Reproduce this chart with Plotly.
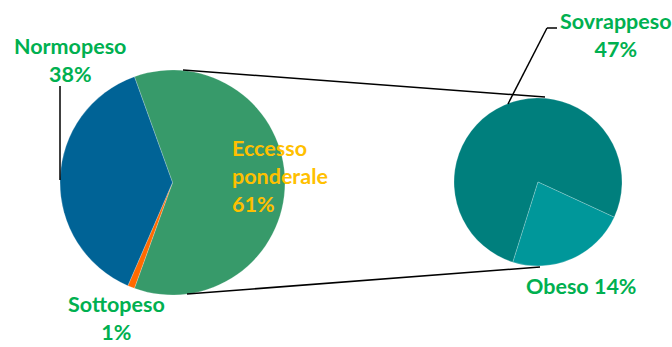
import plotly.graph_objects as go

# Main pie: body-weight categories (percent)
main_labels = ["Eccesso ponderale", "Sottopeso", "Normopeso"]
main_values = [61, 1, 38]
main_colors = ["#379A6A", "#FF6A00", "#006396"]

# Secondary pie: breakdown of "Eccesso ponderale"
sub_labels = ["Sovrappeso", "Obeso"]
sub_values = [47, 14]
sub_colors = ["#007F7D", "#00979A"]

W, H = 672, 347


def px(x):
    return x / W


def py(y):
    return 1 - y / H


GREEN = "#00B050"
YELLOW = "#FFC000"
FONT = "Lato"
SIZE = 21.5

# rotate the main pie so that the "Eccesso ponderale" slice is centred at 3 o'clock
share_excess = main_values[0] / sum(main_values)
main_rotation = 90 - 180 * share_excess

fig = go.Figure()
fig.add_trace(go.Pie(
    labels=main_labels, values=main_values, sort=False,
    direction="clockwise", rotation=main_rotation,
    marker=dict(colors=main_colors, line=dict(color="rgba(255,255,255,0.35)", width=0.6)),
    textinfo="none", hoverinfo="label+percent", showlegend=False,
    domain=dict(x=[px(60), px(285)], y=[py(295), py(70)]),
))
fig.add_trace(go.Pie(
    labels=sub_labels, values=sub_values, sort=False,
    direction="clockwise", rotation=-162.6,
    marker=dict(colors=sub_colors, line=dict(color="rgba(255,255,255,0.35)", width=0.6)),
    textinfo="none", hoverinfo="label+value", showlegend=False,
    domain=dict(x=[px(454), px(622)], y=[py(266), py(98)]),
))

shapes = []


def seg(x0, y0, x1, y1, w=1.5):
    shapes.append(dict(type="line", xref="paper", yref="paper",
                       x0=px(x0), y0=py(y0), x1=px(x1), y1=py(y1),
                       line=dict(color="black", width=w)))


# connector lines between the two pies
seg(183, 70, 545, 97)
seg(187, 294, 540, 267)
# leader lines
seg(60, 86, 60, 180)
seg(508, 104, 547, 28)
seg(547, 28, 557, 28)

annotations = []


def label(text, x, y, color, anchor="center", yanchor="middle"):
    annotations.append(dict(text=text, x=px(x), y=py(y), xref="paper", yref="paper",
                            showarrow=False, xanchor=anchor, yanchor=yanchor,
                            align=anchor if anchor != "center" else "center",
                            font=dict(family=FONT, size=SIZE, color=color, weight="bold")))


norm, sotto, excess = main_labels[2], main_labels[1], main_labels[0]
label(f"{norm}<br>{main_values[2]}%", 70, 60, GREEN)
label(f"{sotto}<br>{main_values[1]}%", 116, H, GREEN, yanchor="bottom")
label(excess.replace(" ", "<br>") + f"<br>{main_values[0]}%", 230, 176, YELLOW, "left")
label(f"{sub_labels[0]}<br>{sub_values[0]}%", 616, 35, GREEN)
label(f"{sub_labels[1]} {sub_values[1]}%", 581, 286, GREEN)

fig.update_layout(
    width=W, height=H, margin=dict(l=0, r=0, t=0, b=0),
    paper_bgcolor="white", plot_bgcolor="white",
    shapes=shapes, annotations=annotations,
)

fig.write_html("out.html")
